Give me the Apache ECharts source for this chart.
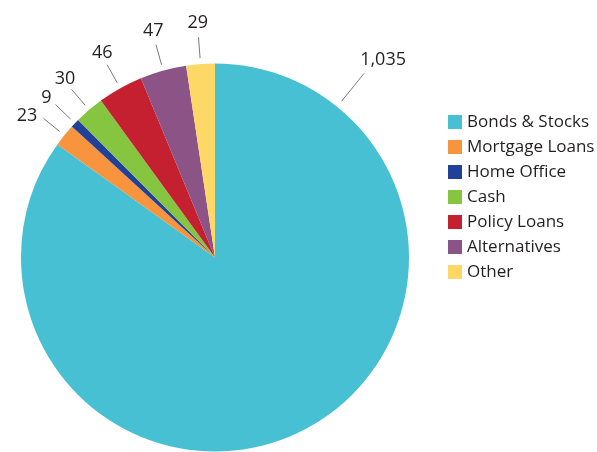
<!DOCTYPE html>
<html>
<head>
<meta charset="utf-8">
<script src="https://cdn.jsdelivr.net/npm/echarts@6/dist/echarts.min.js"></script>
<style>
html,body{margin:0;padding:0;background:#fff;}
#chart{width:597px;height:452px;}
</style>
</head>
<body>
<div id="chart"></div>
<script>
const categories = ['Bonds & Stocks','Mortgage Loans','Home Office','Cash','Policy Loans','Alternatives','Other'];
const values = [1035, 23, 9, 30, 46, 47, 29];
const colors = ['#48C0D3','#F7943D','#21409A','#86C540','#C5202F','#8B5386','#FDD866'];

const CX = 215, CY = 257.5, R = 194;
const GAP = 6, LINE = 21;
const BIG_ANGLE = 39; // degrees clockwise from top for the large slice's label
const BIG_LINE = 36;

const chart = echarts.init(document.getElementById('chart'), null, {renderer:'canvas'});

function layout(p) {
  let ux, uy, len = LINE, gap = GAP;
  if (p.dataIndex === 0) {
    const a = BIG_ANGLE * Math.PI / 180;
    ux = Math.sin(a); uy = -Math.cos(a); len = BIG_LINE; gap = GAP + 1;
  } else {
    const p0 = p.labelLinePoints[0];
    const dx = p0[0] - CX, dy = p0[1] - CY;
    const d = Math.sqrt(dx*dx + dy*dy);
    ux = dx / d; uy = dy / d;
  }
  const sx = CX + ux * (R + gap), sy = CY + uy * (R + gap);
  const ex = sx + ux * len, ey = sy + uy * len;
  const pts = [[sx, sy], [ex, ey], [ex, ey]];
  if (p.dataIndex === 0) {
    return {x: ex - 4, y: ey - 13, align: 'left', verticalAlign: 'middle', labelLinePoints: pts};
  }
  if (ux < -0.75) {
    return {x: ex - 6, y: ey - 2, align: 'right', verticalAlign: 'middle', labelLinePoints: pts};
  }
  if (ux < -0.7) {
    return {x: ex - 4, y: ey - 7, align: 'right', verticalAlign: 'middle', labelLinePoints: pts};
  }
  return {x: ex + ux * 10, y: ey + uy * 14, align: 'center', verticalAlign: 'middle', labelLinePoints: pts};
}

chart.setOption({
  animation: false,
  color: colors,
  legend: {
    orient: 'vertical',
    left: 443,
    top: 108.5,
    icon: 'rect',
    itemWidth: 14,
    itemHeight: 14,
    itemGap: 8,
    itemTextGap: 6,
    selectedMode: false,
    data: categories,
    textStyle: {fontFamily: 'Open Sans', fontSize: 17, lineHeight: 17, color: '#231F20'}
  },
  series: [{
    type: 'pie',
    center: [CX, CY],
    radius: R,
    startAngle: 90,
    clockwise: true,
    avoidLabelOverlap: false,
    data: categories.map((c, i) => ({name: c, value: values[i]})),
    itemStyle: {borderWidth: 0},
    label: {
      show: true,
      position: 'outside',
      fontFamily: 'Open Sans',
      fontSize: 18,
      color: '#231F20',
      formatter: (p) => p.value.toLocaleString('en-US')
    },
    labelLine: {show: true, length: 20, length2: 0, lineStyle: {color: '#7A7A7A', width: 1}},
    labelLayout: layout,
    emphasis: {disabled: true}
  }]
});
</script>
</body>
</html>
